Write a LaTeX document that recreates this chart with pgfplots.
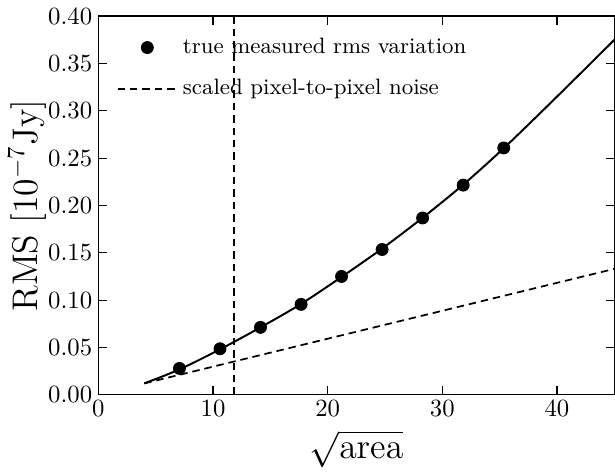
\documentclass[border=0pt]{standalone}
\usepackage{pgfplots}
\pgfplotsset{compat=1.18}
\begin{document}
\begin{tikzpicture}
\begin{axis}[
  width=208.5pt, height=153pt, scale only axis,
  xmin=0, xmax=45, ymin=0, ymax=0.40,
  xtick={0,10,20,30,40},
  ytick={0,0.05,0.10,0.15,0.20,0.25,0.30,0.35,0.40},
  yticklabel style={/pgf/number format/fixed, /pgf/number format/fixed zerofill, /pgf/number format/precision=2, xshift=1pt},
  xticklabel style={yshift=1pt},
  tick align=inside, tick pos=both,
  major tick length=3.5pt,
  tick style={black, line width=0.5pt},
  tick label style={font=\fontsize{9.7}{11}\selectfont},
  xlabel={$\sqrt{\mathrm{area}}$},
  ylabel={$\mathrm{RMS}\ [10^{-7}\mathrm{Jy}]$},
  xlabel style={font=\fontsize{13.5}{16}\selectfont, yshift=1.5pt},
  ylabel style={font=\fontsize{14}{16}\selectfont, yshift=-6pt},
  axis line style={line width=0.6pt},
  legend style={draw=none, fill=none, at={(0.02,0.97)}, anchor=north west,
    font=\fontsize{9}{10}\selectfont, row sep=5pt},
  legend cell align=left,
]
\addplot[only marks, mark=*, mark size=2.4pt, black,
  legend image code/.code={\draw[black, fill=black] (12pt,0pt) circle (2.4pt);}] coordinates {
  (7.07,0.0278) (10.61,0.0486) (14.14,0.0712) (17.68,0.0955) (21.21,0.1250)
  (24.75,0.1535) (28.28,0.1868) (31.82,0.2215) (35.36,0.2608)
};
\addlegendentry{true measured rms variation}
\addplot[black, line width=0.7pt, dash pattern=on 3pt off 2pt,
  legend image code/.code={\draw[black, line width=0.8pt, dash pattern=on 3pt off 2pt] (0pt,0pt) -- (24pt,0pt);}]
  coordinates {(4,0.0120) (45,0.133)};
\addlegendentry{scaled pixel-to-pixel noise}
\addplot[black, line width=0.8pt, smooth, forget plot] coordinates {
  (4,0.0120) (7.07,0.0268) (10.61,0.0480) (14.14,0.0712) (17.68,0.0960)
  (21.21,0.1245) (24.75,0.1545) (28.28,0.1870) (31.82,0.2220) (35.36,0.2605)
  (40,0.3150) (45,0.3750)
};
\addplot[black, line width=0.8pt, dash pattern=on 3pt off 2pt, forget plot]
  coordinates {(11.8,0) (11.8,0.40)};
\end{axis}
\end{tikzpicture}
\end{document}
